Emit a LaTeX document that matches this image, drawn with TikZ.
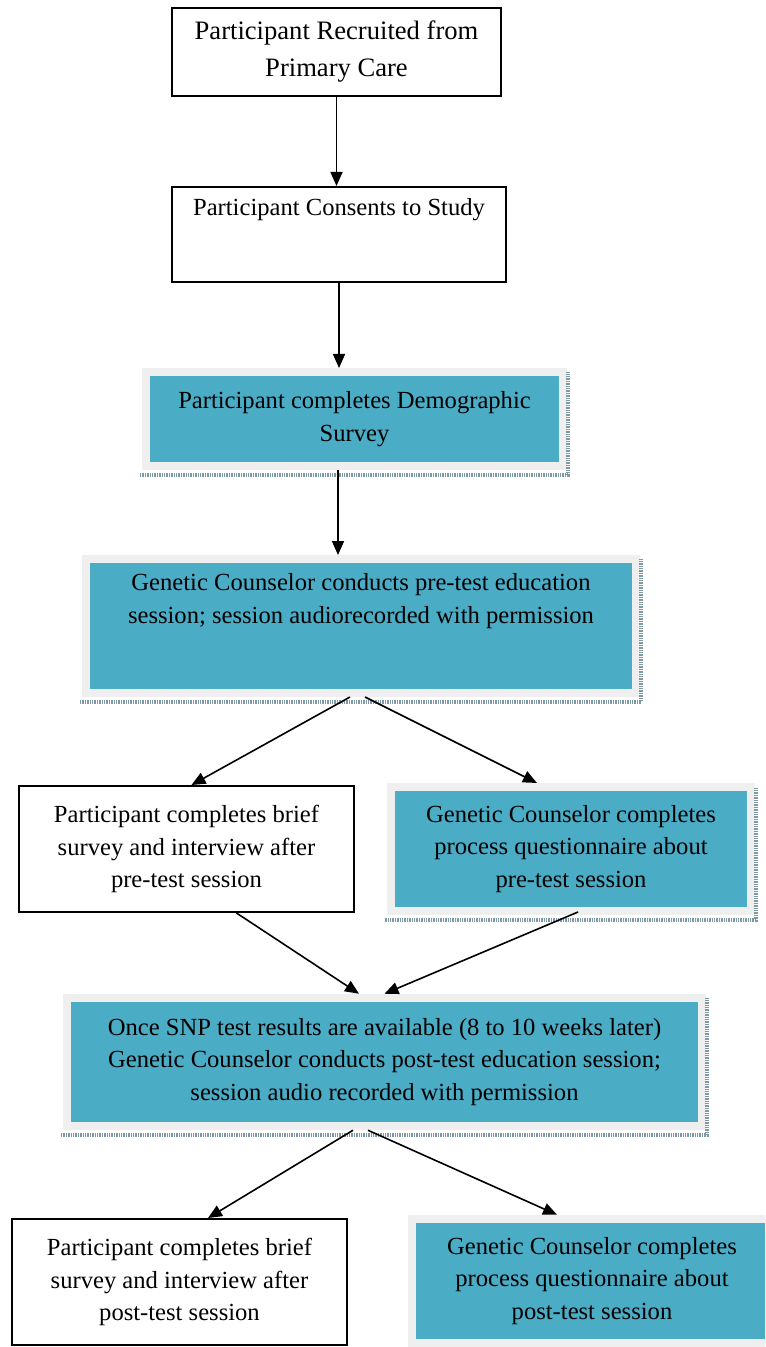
\documentclass[tikz,border=0pt]{standalone}
\usepackage{fontspec}
\setmainfont{Liberation Serif}
\usepackage{xcolor}
\usepackage{tikz}
\usetikzlibrary{arrows.meta}
\definecolor{tealfill}{HTML}{4BACC6}
\definecolor{framegray}{HTML}{EFEFEF}
\definecolor{shadowblue}{HTML}{7E99A4}
\newcommand{\boxfont}{\fontsize{12.3}{16.3}\selectfont}
\newcommand{\bigboxfont}{\fontsize{13.3}{18.5}\selectfont}
\tikzset{
  plainbox/.style={draw, line width=1pt, fill=white, align=center, inner sep=1pt, font=\boxfont},
  tealbox/.style={draw=framegray, line width=4pt, fill=tealfill, align=center, inner sep=1pt, font=\boxfont},
  boxtext/.style={align=center, inner sep=0pt, font=\boxfont},
  boxshadow/.style={draw=shadowblue, line width=1.8pt, dash pattern=on 0.7pt off 0.5pt},
  flow/.style={-{Triangle[length=7pt,width=6pt]}, line width=0.8pt}
}

\begin{document}
\begin{tikzpicture}[x=0.5pt,y=-0.5pt]
\useasboundingbox (0,0) rectangle (765,1347);
\clip (0,0) rectangle (765,1347);
\node[plainbox, font=\bigboxfont, minimum width=164.5pt, minimum height=44pt] (recruit) at (336.5,52) {Participant Recruited from\\Primary Care};
\node[plainbox, minimum width=167pt, minimum height=47.5pt] (consent) at (339,234.5) {};
\node[boxtext] (consenttxt) at (339,210) {Participant Consents to Study};
\node[tealbox, minimum width=208.5pt, minimum height=47pt] (demo) at (354.5,419) {Participant completes Demographic\\Survey};
\node[tealbox, minimum width=275pt, minimum height=67pt] (gcpre) at (361,626) {};
\node[boxtext] (gcpretxt) at (361,601) {Genetic Counselor conducts pre-test education\\session; session audiorecorded with permission};
\node[plainbox, minimum width=167.5pt, minimum height=63pt] (ppre) at (186.5,849) {Participant completes brief\\survey and interview after\\pre-test session};
\node[tealbox, minimum width=179.75pt, minimum height=62pt] (gcpreq) at (571,849) {Genetic Counselor completes\\process questionnaire about\\pre-test session};
\node[tealbox, minimum width=317.5pt, minimum height=64.25pt] (post) at (384.5,1062) {Once SNP test results are available (8 to 10 weeks later)\\Genetic Counselor conducts post-test education session;\\session audio recorded with permission};
\node[plainbox, minimum width=167.5pt, minimum height=63pt] (ppost) at (179.5,1282) {Participant completes brief\\survey and interview after\\post-test session};
\node[tealbox, minimum width=180pt, minimum height=62.25pt] (gcpostq) at (592,1281) {Genetic Counselor completes\\process questionnaire about\\post-test session};
\foreach \n in {demo,gcpre,gcpreq,post,gcpostq}
  \draw[boxshadow] ([xshift=-1pt,yshift=-2.5pt]\n.south west) -- ([xshift=0.5pt,yshift=-2.5pt]\n.south east) -- ([xshift=0.5pt,yshift=-2pt]\n.north east);
\draw[flow] (recruit) -- (recruit |- consent.north);
\draw[flow] (consent) -- (consent |- demo.north);
\draw[flow] ([xshift=-8.25pt]demo.south) -- ([xshift=-8.25pt]demo.south |- gcpre.north);
\draw[flow] ([xshift=-5.5pt]gcpre.south) -- ([xshift=2.5pt]ppre.north);
\draw[flow] ([xshift=2pt]gcpre.south) -- ([xshift=-17pt]gcpreq.north);
\draw[flow] ([xshift=25pt]ppre.south) -- ([xshift=-12.75pt]post.north);
\draw[flow] ([xshift=3.5pt,yshift=1.5pt]gcpreq.south) -- (post.north);
\draw[flow] ([xshift=-15.75pt]post.south) -- ([xshift=14.25pt]ppost.north);
\draw[flow] ([xshift=-8.25pt]post.south) -- ([xshift=-17.5pt]gcpostq.north);
\end{tikzpicture}
\end{document}
